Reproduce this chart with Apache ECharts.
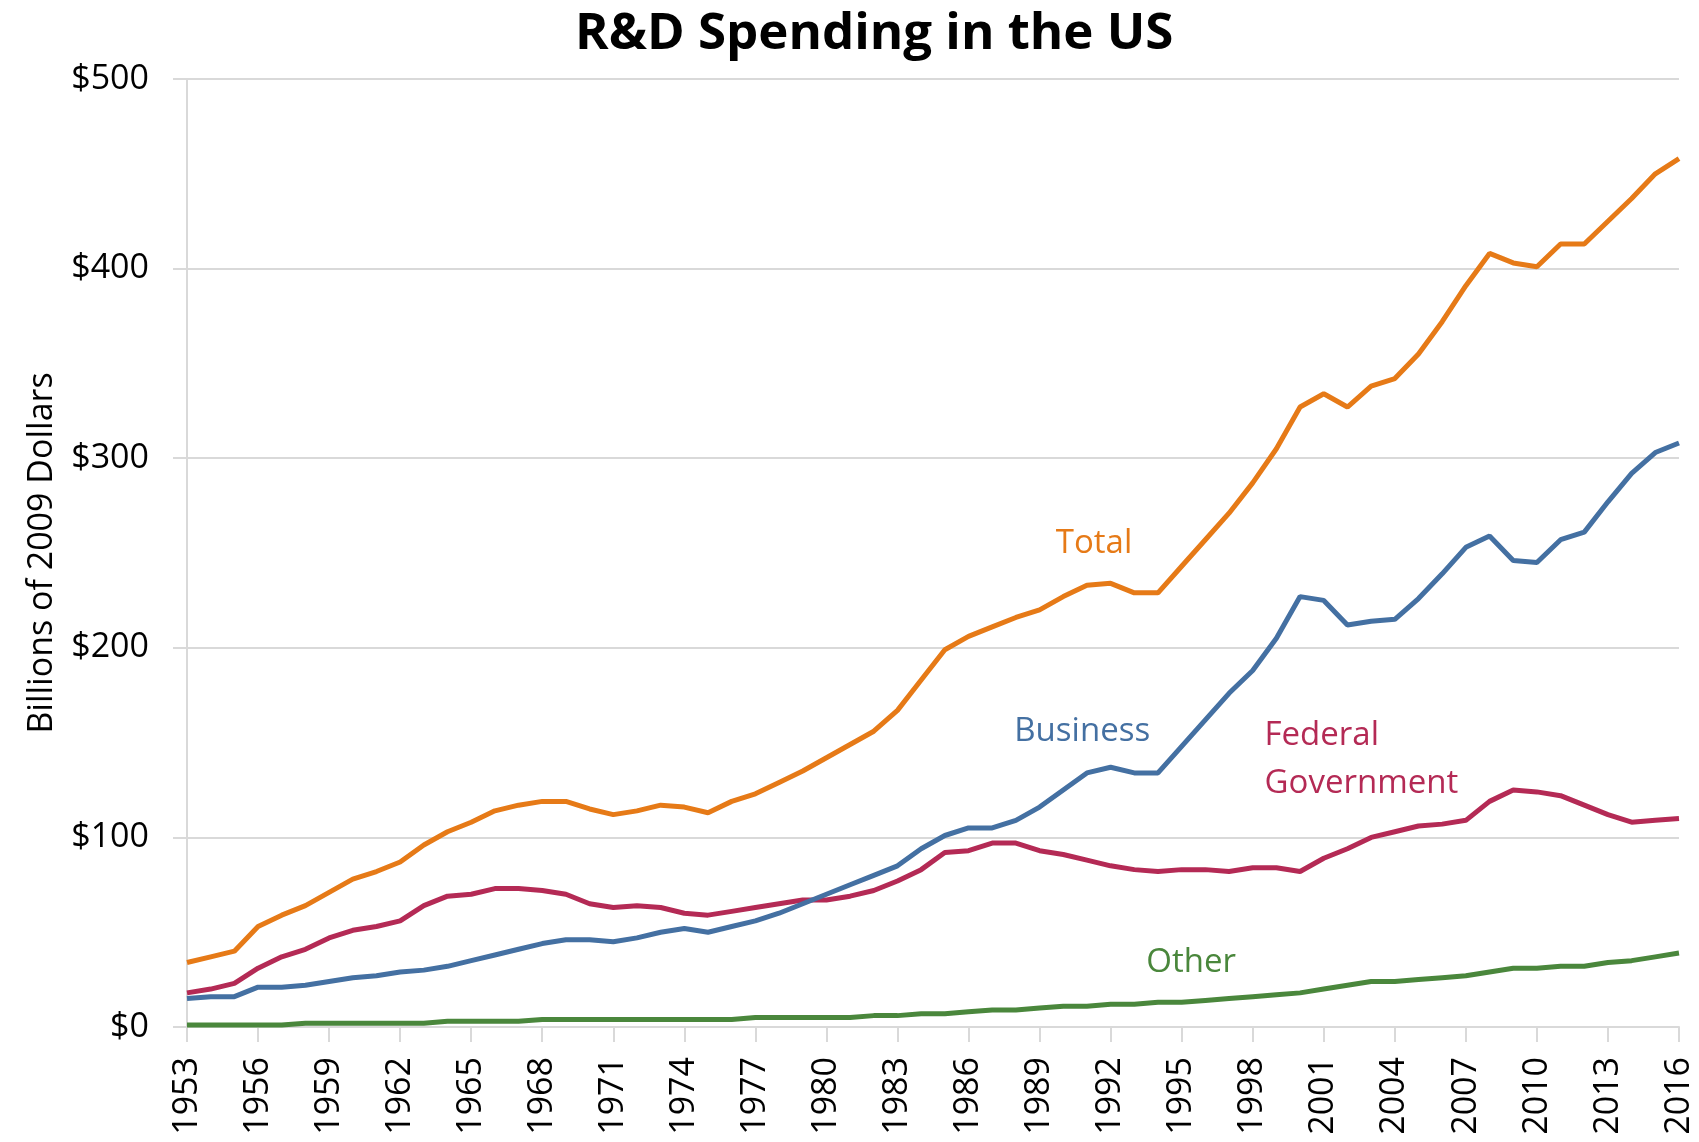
<!DOCTYPE html>
<html style="height: 100%">
<head>
<meta charset="utf-8">
</head>
<body style="height: 100%; margin: 0; background: #fff">
<div id="container" style="width: 1699px; height: 1142px"></div>
<script src="https://cdn.jsdelivr.net/npm/echarts@6/dist/echarts.min.js"></script>
<script>
// years 1953..2016, billions of 2009 dollars
var years = [];
for (var y = 1953; y <= 2016; y++) years.push(y);

var total = [34, 37, 40, 53, 59, 64, 71, 78, 82, 87,
  96, 103, 108, 114, 117, 119, 119, 115, 112, 114,
  117, 116, 113, 119, 123, 129, 135, 142, 149, 156,
  167, 183, 199, 206, 211, 216, 220, 227, 233, 234,
  229, 229, 243, 257, 271, 287, 305, 327, 334, 327,
  338, 342, 355, 372, 391, 408, 403, 401, 413, 413,
  425, 437, 450, 458];
var business = [15, 16, 16, 21, 21, 22, 24, 26, 27, 29,
  30, 32, 35, 38, 41, 44, 46, 46, 45, 47,
  50, 52, 50, 53, 56, 60, 65, 70, 75, 80,
  85, 94, 101, 105, 105, 109, 116, 125, 134, 137,
  134, 134, 148, 162, 176, 188, 205, 227, 225, 212,
  214, 215, 226, 239, 253, 259, 246, 245, 257, 261,
  277, 292, 303, 308];
var federal = [18, 20, 23, 31, 37, 41, 47, 51, 53, 56,
  64, 69, 70, 73, 73, 72, 70, 65, 63, 64,
  63, 60, 59, 61, 63, 65, 67, 67, 69, 72,
  77, 83, 92, 93, 97, 97, 93, 91, 88, 85,
  83, 82, 83, 83, 82, 84, 84, 82, 89, 94,
  100, 103, 106, 107, 109, 119, 125, 124, 122, 117,
  112, 108, 109, 110];
var other = [1, 1, 1, 1, 1, 2, 2, 2, 2, 2,
  2, 3, 3, 3, 3, 4, 4, 4, 4, 4,
  4, 4, 4, 4, 5, 5, 5, 5, 5, 6,
  6, 7, 7, 8, 9, 9, 10, 11, 11, 12,
  12, 13, 13, 14, 15, 16, 17, 18, 20, 22,
  24, 24, 25, 26, 27, 29, 31, 31, 32, 32,
  34, 35, 37, 39];

var seriesNames = ['Total', 'Business', 'Federal Government', 'Other'];
var seriesColors = ['#E67A17', '#4470A2', '#B42A55', '#4A873C'];
// label anchors [year, value]
var labelPos = [[1991.3, 255], [1990.8, 156], [1998.5, 141], [1995.4, 34]];
var labelText = ['Total', 'Business', 'Federal\nGovernment', 'Other'];
var labelAlign = ['center', 'center', 'left', 'center'];

var font = 'Open Sans';

function pairs(arr) {
  return arr.map(function (v, i) { return [years[i], v]; });
}

var allData = [total, business, federal, other];

var dom = document.getElementById('container');
var myChart = echarts.init(dom);
var option = {
  backgroundColor: '#fff',
  animation: false,
  title: {
    text: 'R&D Spending in the US',
    left: 570,
    top: 4,
    textStyle: { fontFamily: font, fontWeight: 'bold', fontSize: 51, color: '#000' }
  },
  grid: { left: 187, right: 20, top: 79, bottom: 115 },
  xAxis: {
    type: 'value',
    min: 1953,
    max: 2016,
    interval: 3,
    axisLine: { lineStyle: { color: '#d9d9d9', width: 2 } },
    axisTick: { show: true, length: 15, lineStyle: { color: '#d9d9d9', width: 2 } },
    splitLine: { show: false },
    axisLabel: {
      rotate: 90,
      margin: 30,
      fontFamily: font,
      fontSize: 34,
      color: '#000',
      formatter: function (v) { return String(v); }
    }
  },
  yAxis: {
    type: 'value',
    min: 0,
    max: 500,
    interval: 100,
    name: 'Billions of 2009 Dollars',
    nameLocation: 'middle',
    nameGap: 128,
    nameTextStyle: { fontFamily: font, fontSize: 34, color: '#000' },
    axisLine: { show: true, lineStyle: { color: '#d9d9d9', width: 2 } },
    axisTick: { show: true, length: 14, lineStyle: { color: '#d9d9d9', width: 2 } },
    splitLine: { lineStyle: { color: '#d9d9d9', width: 2 } },
    axisLabel: {
      margin: 38,
      fontFamily: font,
      fontSize: 34,
      color: '#000',
      formatter: function (v) { return '$' + v; }
    }
  },
  series: allData.map(function (arr, k) {
    return {
      name: seriesNames[k],
      type: 'line',
      data: pairs(arr),
      showSymbol: false,
      lineStyle: { color: seriesColors[k], width: 5 },
      itemStyle: { color: seriesColors[k] },
      z: 10 - k,
      markPoint: {
        symbol: 'circle',
        symbolSize: 0,
        data: [{
          coord: labelPos[k],
          label: {
            show: true,
            formatter: labelText[k],
            position: 'inside',
            align: labelAlign[k],
            fontFamily: font,
            fontSize: 33,
            lineHeight: 48,
            color: seriesColors[k]
          }
        }]
      }
    };
  })
};
myChart.setOption(option);
</script>
</body>
</html>
